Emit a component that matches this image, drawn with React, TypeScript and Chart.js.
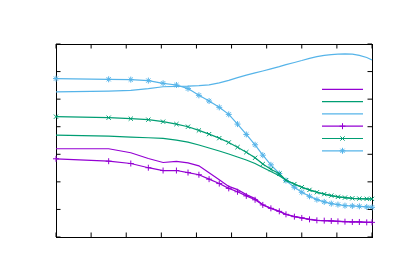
import React, { useEffect, useRef } from "react";
import { Chart, registerables } from "chart.js";

Chart.register(...registerables);

const xValues = [0, 1.5, 2.13, 2.63, 3.05, 3.43, 3.76, 4.07, 4.36, 4.65, 4.92, 5.17, 5.42, 5.67, 5.89, 6.12, 6.36, 6.55, 6.79, 7.0, 7.22, 7.43, 7.64, 7.84, 8.03, 8.23, 8.44, 8.64, 8.85, 9.0];

const purpleLine = [3.2, 3.2, 3.055, 2.847, 2.702, 2.745, 2.69, 2.582, 2.327, 2.073, 1.836, 1.72, 1.538, 1.393, 1.17, 1.045, 0.935, 0.825, 0.74, 0.692, 0.641, 0.605, 0.593, 0.582, 0.567, 0.556, 0.545, 0.545, 0.531, 0.531];
const greenLine = [3.695, 3.658, 3.622, 3.6, 3.575, 3.513, 3.44, 3.338, 3.229, 3.12, 3.011, 2.902, 2.793, 2.665, 2.52, 2.375, 2.22, 2.06, 1.92, 1.804, 1.709, 1.622, 1.556, 1.502, 1.458, 1.429, 1.404, 1.393, 1.385, 1.382];
const blueLine = [5.26, 5.29, 5.32, 5.38, 5.45, 5.465, 5.47, 5.49, 5.52, 5.59, 5.68, 5.78, 5.87, 5.95, 6.02, 6.1, 6.18, 6.25, 6.33, 6.4, 6.48, 6.545, 6.59, 6.615, 6.63, 6.64, 6.63, 6.585, 6.51, 6.42];
const purpleMarked = [2.836, 2.749, 2.665, 2.513, 2.411, 2.411, 2.338, 2.258, 2.098, 1.938, 1.764, 1.64, 1.491, 1.349, 1.164, 1.04, 0.931, 0.822, 0.738, 0.691, 0.64, 0.604, 0.593, 0.582, 0.567, 0.556, 0.545, 0.545, 0.531, 0.531];
const greenMarked = [4.364, 4.327, 4.291, 4.255, 4.182, 4.095, 4.0, 3.865, 3.731, 3.585, 3.429, 3.258, 3.076, 2.873, 2.647, 2.455, 2.295, 2.058, 1.92, 1.804, 1.709, 1.622, 1.556, 1.502, 1.458, 1.429, 1.404, 1.393, 1.385, 1.382];
const blueMarked = [5.745, 5.72, 5.709, 5.673, 5.575, 5.513, 5.382, 5.138, 4.931, 4.702, 4.447, 4.095, 3.72, 3.345, 2.967, 2.618, 2.302, 2.047, 1.804, 1.622, 1.476, 1.356, 1.273, 1.211, 1.175, 1.138, 1.127, 1.113, 1.091, 1.076];

const xTickValues = [0, 1, 2, 3, 4, 5, 6, 7, 8, 9];
const yTickValues = [0, 1, 2, 3, 4, 5, 6, 7];

const PURPLE = "#9400d3";
const GREEN = "#009e73";
const BLUE = "#56b4e9";

const toPts = (ys: number[]) => ys.map((y, i) => ({ x: xValues[i], y }));

const inwardTicks = {
  id: "inwardTicks",
  afterDatasetsDraw(chart: any) {
    const { ctx, chartArea, scales } = chart;
    const { left, right, top, bottom } = chartArea;
    const len = 4.5;
    ctx.save();
    ctx.strokeStyle = "#000";
    ctx.lineWidth = 1;
    ctx.beginPath();
    for (const v of xTickValues) {
      const px = scales.x.getPixelForValue(v);
      ctx.moveTo(px, bottom);
      ctx.lineTo(px, bottom - len);
      ctx.moveTo(px, top);
      ctx.lineTo(px, top + len);
    }
    for (const v of yTickValues) {
      const py = scales.y.getPixelForValue(v);
      ctx.moveTo(left, py);
      ctx.lineTo(left + len, py);
      ctx.moveTo(right, py);
      ctx.lineTo(right - len, py);
    }
    ctx.stroke();
    ctx.restore();
  },
};

const drawMarker = (ctx: CanvasRenderingContext2D, style: string, x: number, y: number, r: number) => {
  ctx.beginPath();
  const d = r * Math.SQRT1_2;
  if (style === "cross" || style === "star") {
    ctx.moveTo(x - r, y);
    ctx.lineTo(x + r, y);
    ctx.moveTo(x, y - r);
    ctx.lineTo(x, y + r);
  }
  if (style === "crossRot" || style === "star") {
    ctx.moveTo(x - d, y - d);
    ctx.lineTo(x + d, y + d);
    ctx.moveTo(x - d, y + d);
    ctx.lineTo(x + d, y - d);
  }
  ctx.stroke();
};

const keyPlugin = {
  id: "keyPlugin",
  afterDatasetsDraw(chart: any) {
    const { ctx, chartArea } = chart;
    const x1 = chartArea.right - 50;
    const x2 = chartArea.right - 9;
    const y0 = chartArea.top + 45.3;
    const step = 12.3;
    ctx.save();
    chart.data.datasets.forEach((ds: any, i: number) => {
      const y = y0 + i * step;
      ctx.strokeStyle = ds.borderColor;
      ctx.lineWidth = ds.borderWidth;
      ctx.beginPath();
      ctx.moveTo(x1, y);
      ctx.lineTo(x2, y);
      ctx.stroke();
      if (ds.pointRadius > 0) {
        ctx.lineWidth = 1;
        drawMarker(ctx, ds.pointStyle, (x1 + x2) / 2, y, ds.pointRadius);
      }
    });
    ctx.restore();
  },
};

export default function App() {
  const ref = useRef<HTMLCanvasElement>(null);
  useEffect(() => {
    if (!ref.current) return;
    const mk = (data: number[], color: string, style: string | false) => ({
      data: toPts(data),
      borderColor: color,
      backgroundColor: color,
      borderWidth: 1.2,
      pointStyle: style || "circle",
      pointRadius: style ? 3 : 0,
      pointBorderWidth: 1,
      pointBorderColor: color,
      tension: 0,
      clip: false,
    });
    const axisCommon = {
      type: "linear",
      ticks: { display: false, padding: 0 },
      grid: { display: false, drawTicks: false },
      border: { display: true, color: "#000", width: 1 },
    };
    const chart = new Chart(ref.current, {
      type: "line",
      data: {
        datasets: [
          mk(purpleLine, PURPLE, false),
          mk(greenLine, GREEN, false),
          mk(blueLine, BLUE, false),
          mk(purpleMarked, PURPLE, "cross"),
          mk(greenMarked, GREEN, "crossRot"),
          mk(blueMarked, BLUE, "star"),
        ] as any,
      },
      options: {
        animation: false,
        responsive: false,
        events: [],
        layout: { padding: { left: 56, right: 28, top: 44, bottom: 42 } },
        plugins: { legend: { display: false }, tooltip: { enabled: false } },
        scales: {
          x: { ...axisCommon, min: 0, max: 9, position: "bottom" },
          x2: { ...axisCommon, min: 0, max: 9, position: "top" },
          y: { ...axisCommon, min: 0, max: 7, position: "left" },
          y2: { ...axisCommon, min: 0, max: 7, position: "right" },
        } as any,
      },
      plugins: [inwardTicks, keyPlugin],
    });
    return () => chart.destroy();
  }, []);
  return (
    <div style={{ position: "absolute", left: 0, top: 0, width: 400, height: 279, background: "#fff" }}>
      <canvas ref={ref} width={400} height={279} style={{ display: "block" }} />
    </div>
  );
}
